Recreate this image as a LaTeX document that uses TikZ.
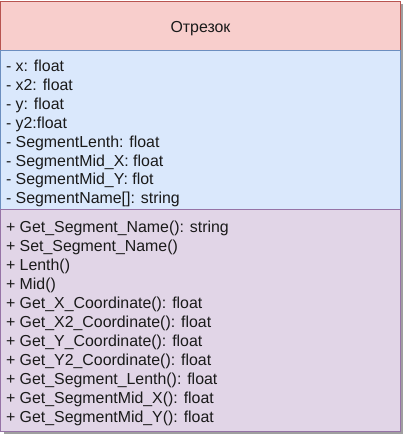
\documentclass[tikz,border=0pt]{standalone}
\usepackage{fontspec}
\setmainfont{Liberation Sans}
\definecolor{headfill}{HTML}{F8CECC}
\definecolor{headline}{HTML}{B85450}
\definecolor{attrfill}{HTML}{DAE8FC}
\definecolor{attrline}{HTML}{6C8EBF}
\definecolor{opfill}{HTML}{E1D5E7}
\definecolor{opline}{HTML}{9673A6}
\definecolor{txt}{HTML}{1A1A1A}
\tikzset{
  member/.style={anchor=base west,inner sep=0pt,text=txt,font=\fontsize{15.9}{19}\selectfont},
  title/.style={anchor=base,inner sep=0pt,text=txt,font=\fontsize{15.9}{19}\selectfont}
}
\begin{document}
\begin{tikzpicture}[x=1pt,y=-1pt,line width=1pt]
		\useasboundingbox (0,0) rectangle (403,434);
		% shadow
		\fill[gray!75] (3.5,4) rectangle (403,433.5);
		
		\filldraw[fill=headfill,draw=headline] (0.5,1) rectangle (400.5,50);
		\filldraw[fill=attrfill,draw=attrline] (0.5,50) rectangle (400.5,209);
		\filldraw[fill=opfill,draw=opline] (0.5,209) rectangle (400.5,431);
		
		\node[title] (name) at (200.5,32){Отрезок};
		
		% attributes
		\node[member] (ax) at (5.5,71.5){- x: float};
		\node[member] (ax2) at (5.5,90.4){- x2: float};
		\node[member] (ay) at (5.5,109.3){- y: float};
		\node[member] (ay2) at (5.5,128.2){- y2:float};
		\node[member] (alen) at (5.5,147.1){- SegmentLenth: float};
		\node[member] (amidx) at (5.5,166){- SegmentMid\_X: float};
		\node[member] (amidy) at (5.5,184.9){- SegmentMid\_Y: flot};
		\node[member] (aname) at (5.5,203.8){- SegmentName[]: string};
		
		% operations
		\node[member] (getname) at (5.5,232){+ Get\_Segment\_Name(): string};
		\node[member] (setname) at (5.5,251){+ Set\_Segment\_Name()};
		\node[member] (lenth) at (5.5,270){+ Lenth()};
		\node[member] (mid) at (5.5,289){+ Mid()};
		\node[member] (getx) at (5.5,308){+ Get\_X\_Coordinate(): float};
		\node[member] (getx2) at (5.5,327){+ Get\_X2\_Coordinate(): float};
		\node[member] (gety) at (5.5,346){+ Get\_Y\_Coordinate(): float};
		\node[member] (gety2) at (5.5,365){+ Get\_Y2\_Coordinate(): float};
		\node[member] (getlen) at (5.5,384){+ Get\_Segment\_Lenth(): float};
		\node[member] (getmidx) at (5.5,403){+ Get\_SegmentMid\_X(): float};
		\node[member] (getmidy) at (5.5,422){+ Get\_SegmentMid\_Y(): float};
	\end{tikzpicture}
\end{document}
